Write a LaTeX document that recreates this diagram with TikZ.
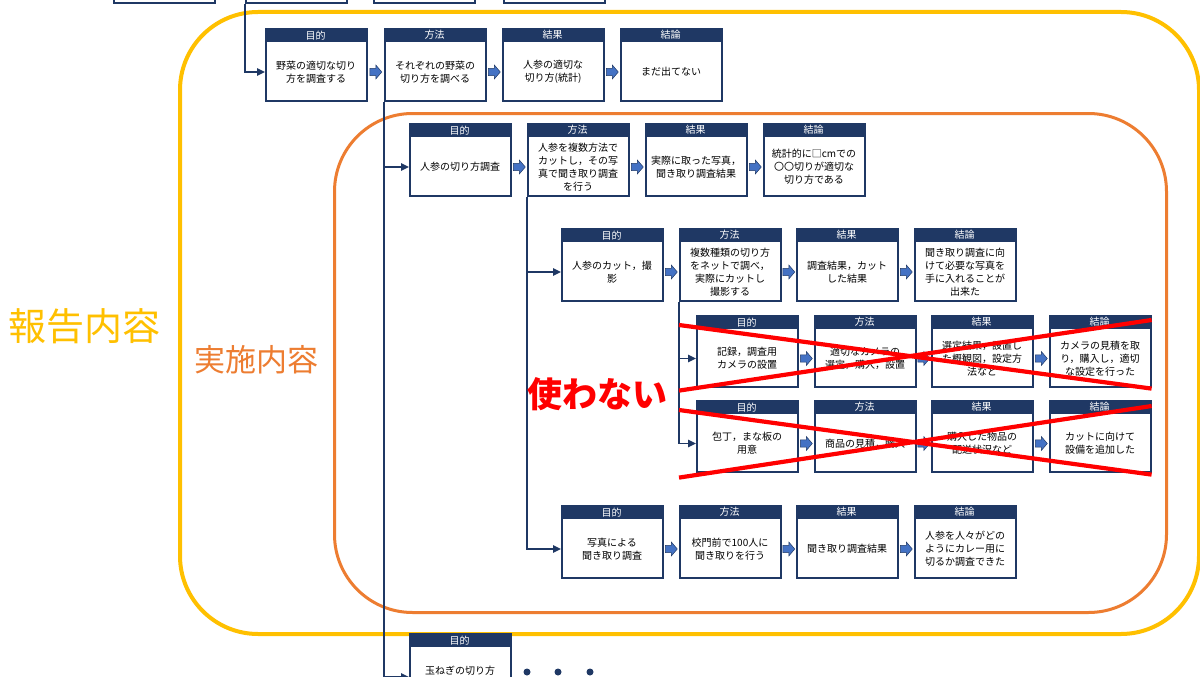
\documentclass[tikz,border=0pt]{standalone}
\usepackage{fontspec}
\setmainfont{Noto Sans CJK JP}
\usetikzlibrary{calc,arrows.meta}
\definecolor{navy}{HTML}{1F3864}
\definecolor{ablue}{HTML}{4472C4}
\definecolor{gold}{HTML}{FFC000}
\definecolor{orng}{HTML}{ED7D31}
\tikzset{
  cardbody/.style={draw=navy, line width=1.6pt, fill=white, minimum width=101pt, inner sep=0pt},
  cardhead/.style={fill=navy, text=white, minimum width=101pt, minimum height=14pt, inner sep=0pt, font=\fontsize{10}{11}\selectfont},
  cardtext/.style={align=center, inner sep=0pt, font=\fontsize{10}{13}\selectfont},
  blockfill/.style={draw=navy, line width=0.5pt, fill=ablue},
  conn/.style={draw=navy, line width=1.6pt, -{Triangle[length=8pt,width=7.5pt]}},
  connline/.style={draw=navy, line width=1.6pt},
  redx/.style={draw=red, line width=4.2pt},
  container/.style={line width=#1, rounded corners=78pt, inner sep=0pt, anchor=north west},
  dotmark/.style={circle, fill=navy, minimum size=7pt, inner sep=0pt}
}
\newcommand\card[6]{%
  \node[cardbody, minimum height=#4pt, anchor=north west] (#1) at (#2,#3) {};
  \node[cardhead, anchor=north west] (#1h) at (#2,#3) {#5};
  \node[cardtext] (#1t) at ($(#1h.south)!0.5!(#1.south)$) {#6};
}
\newcommand\barrow[3]{%
  \coordinate (#1) at ($(#2t -| #2.east)!0.5!(#3t -| #3.west)$);
  \filldraw[blockfill] ($(#1)+(-6,-3.6)$) -- ($(#1)+(0,-3.6)$) -- ($(#1)+(0,-7)$) -- ($(#1)+(6,0)$)
     -- ($(#1)+(0,7)$) -- ($(#1)+(0,3.6)$) -- ($(#1)+(-6,3.6)$) -- cycle;
}
\begin{document}
\begin{tikzpicture}[x=1pt,y=-1pt]
\useasboundingbox (0,0) rectangle (1200,677);
\clip (0,0) rectangle (1200,677);
\fill[white] (0,0) rectangle (1200,677);

% containers
\node[container=4pt, draw=gold, minimum width=1019pt, minimum height=622pt] (report) at (178,10) {};
\node[container=3pt, draw=orng, minimum width=832pt, minimum height=499pt] (impl) at (333,112) {};
\node[text=gold, font=\fontsize{38}{40}\selectfont, inner sep=0pt] (lblreport) at (85,326) {報告内容};
\node[text=orng, font=\fontsize{31}{33}\selectfont, inner sep=0pt] (lblimpl) at (256,360) {実施内容};

% partial top boxes
\node[cardbody, minimum height=72pt, anchor=north west] (p1) at (113,-70) {};
\node[cardbody, minimum height=72pt, anchor=north west] (p2) at (245,-70) {};
\node[cardbody, minimum height=72pt, anchor=north west] (p3) at (373,-70) {};
\node[cardbody, minimum height=72pt, anchor=north west] (p4) at (503,-70) {};

% row 1
\card{r1a}{265}{28}{72}{目的}{野菜の適切な切り\\方を調査する}
\card{r1b}{384}{28}{72}{方法}{それぞれの野菜の\\切り方を調べる}
\card{r1c}{502}{28}{72}{結果}{人参の適切な\\切り方(統計)}
\card{r1d}{620}{28}{72}{結論}{まだ出てない}
% row 2
\card{r2a}{409}{123}{72}{目的}{人参の切り方調査}
\card{r2b}{527}{123}{72}{方法}{人参を複数方法で\\カットし，その写\\真で聞き取り調査\\を行う}
\card{r2c}{645}{123}{72}{結果}{実際に取った写真，\\聞き取り調査結果}
\card{r2d}{763}{123}{72}{結論}{統計的に□cmでの\\〇〇切りが適切な\\切り方である}
% row 3
\card{r3a}{561}{228}{72}{目的}{人参のカット，撮\\影}
\card{r3b}{679}{228}{72}{方法}{複数種類の切り方\\をネットで調べ，\\実際にカットし\\撮影する}
\card{r3c}{796}{228}{72}{結果}{調査結果，カット\\した結果}
\card{r3d}{914}{228}{72}{結論}{聞き取り調査に向\\けて必要な写真を\\手に入れることが\\出来た}
% row 4
\card{r4a}{696}{315}{71}{目的}{記録，調査用\\カメラの設置}
\card{r4b}{814}{315}{71}{方法}{適切なカメラの\\選定，購入，設置}
\card{r4c}{931}{315}{71}{結果}{選定結果，設置し\\た概観図，設定方\\法など}
\card{r4d}{1049}{315}{71}{結論}{カメラの見積を取\\り，購入し，適切\\な設定を行った}
% row 5
\card{r5a}{696}{400}{71}{目的}{包丁，まな板の\\用意}
\card{r5b}{814}{400}{71}{方法}{商品の見積，購入}
\card{r5c}{931}{400}{71}{結果}{購入した物品の\\配送状況など}
\card{r5d}{1049}{400}{71}{結論}{カットに向けて\\設備を追加した}
% row 6
\card{r6a}{561}{505}{72}{目的}{写真による\\聞き取り調査}
\card{r6b}{679}{505}{72}{方法}{校門前で100人に\\聞き取りを行う}
\card{r6c}{796}{505}{72}{結果}{聞き取り調査結果}
\card{r6d}{914}{505}{72}{結論}{人参を人々がどの\\ようにカレー用に\\切るか調査できた}
% row 7
\card{r7a}{409}{633}{72}{目的}{玉ねぎの切り方\\調査}

% block arrows
\barrow{a11}{r1a}{r1b}\barrow{a12}{r1b}{r1c}\barrow{a13}{r1c}{r1d}
\barrow{a21}{r2a}{r2b}\barrow{a22}{r2b}{r2c}\barrow{a23}{r2c}{r2d}
\barrow{a31}{r3a}{r3b}\barrow{a32}{r3b}{r3c}\barrow{a33}{r3c}{r3d}
\barrow{a41}{r4a}{r4b}\barrow{a42}{r4b}{r4c}\barrow{a43}{r4c}{r4d}
\barrow{a51}{r5a}{r5b}\barrow{a52}{r5b}{r5c}\barrow{a53}{r5c}{r5d}
\barrow{a61}{r6a}{r6b}\barrow{a62}{r6b}{r6c}\barrow{a63}{r6c}{r6d}

% connectors
\coordinate (bottom1) at (384,700);
\draw[connline] (r1b.south west) -- (bottom1);
\draw[conn] (p2.south west) |- (r1at -| r1a.west);
\draw[conn] (r1b.south west) |- (r2at -| r2a.west);
\draw[conn] (r1b.south west) |- (r7at -| r7a.west);
\draw[conn] (r2b.south west) |- (r3at -| r3a.west);
\draw[conn] (r2b.south west) |- (r6at -| r6a.west);
\draw[conn] (r3b.south west) |- (r4at -| r4a.west);
\draw[conn] (r3b.south west) |- (r5at -| r5a.west);

% dots
\node[dotmark] (d1) at (527,672) {};
\node[dotmark] (d2) at (558,672) {};
\node[dotmark] (d3) at (590,672) {};

% strike-outs
\draw[redx] ($(r4a.north west)+(-17,10)$) -- ($(r4d.south east)+(0,1)$);
\draw[redx] ($(r4a.south west)+(-17,3)$) -- ($(r4d.north east)+(0,5)$);
\draw[redx] ($(r5a.north west)+(-17,10)$) -- ($(r5d.south east)+(0,2)$);
\draw[redx] ($(r5a.south west)+(-17,5)$) -- ($(r5d.north east)+(0,6)$);
\node[text=red, font=\fontsize{35}{37}\selectfont\bfseries, inner sep=0pt] (unused) at (597,394) {使わない};
\end{tikzpicture}
\end{document}
